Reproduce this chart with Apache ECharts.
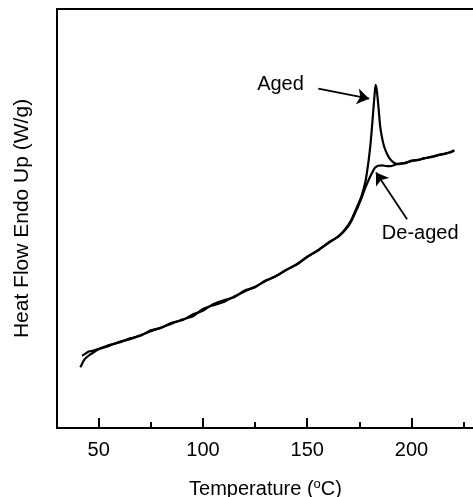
<!DOCTYPE html>
<html>
<head>
<meta charset="utf-8">
<script src="https://cdn.jsdelivr.net/npm/echarts@6/dist/echarts.min.js"></script>
<style>html,body{margin:0;padding:0;background:#fff;}#c{width:473px;height:497px;}</style>
</head>
<body>
<div id="c"></div>
<script>
// Temperature (°C) and heat flow (arbitrary units) for the Aged trace
var agedT = [41.2, 43.2, 45.5, 47.1, 50, 55, 60, 65, 70, 75, 80, 85, 90, 95, 100, 105, 110, 115, 120, 125, 130, 135, 140, 145, 150, 155, 160, 165, 168, 171, 174, 176, 178, 179.5, 180.5, 181.5, 182.3, 182.8, 183.4, 184.2, 185, 186, 187, 188.5, 190, 192, 194, 197, 200, 203, 206, 210, 213, 216, 219, 220.5];
var agedV = [14.5, 16.4, 17.4, 17.9, 18.8, 19.6, 20.6, 21.2, 22.1, 23.1, 24.0, 24.9, 25.9, 26.6, 28.4, 29.3, 30.1, 31.4, 32.6, 33.7, 35.1, 36.3, 37.7, 39.1, 40.8, 42.4, 44.1, 45.8, 47.3, 49.5, 52.9, 55.3, 59.0, 64.0, 68.5, 74.5, 79.5, 81.9, 80.5, 76.5, 72.0, 69.0, 67.0, 65.2, 64.0, 63.2, 63.0, 63.3, 63.7, 64.0, 64.3, 64.8, 65.1, 65.5, 65.8, 66.3];
// De-aged trace
var deagedT = [42.0, 45.5, 47.1, 50, 55, 60, 65, 70, 75, 80, 85, 90, 95, 100, 105, 110, 115, 120, 125, 130, 135, 140, 145, 150, 155, 160, 165, 168, 171, 174, 176, 178, 180, 181.5, 182.5, 184, 186, 188, 190, 192, 194, 197, 200, 203, 206, 210, 213, 216, 219, 220.5];
var deagedV = [17.2, 18.3, 18.4, 18.9, 19.8, 20.4, 21.4, 22.0, 23.3, 23.9, 25.1, 25.7, 27.1, 28.0, 29.6, 30.5, 31.2, 32.8, 33.6, 35.2, 36.2, 37.8, 39.0, 40.9, 42.3, 44.2, 45.7, 47.1, 49.2, 52.4, 54.8, 57.5, 59.8, 61.3, 62.1, 62.6, 62.7, 62.5, 62.5, 62.8, 63.1, 63.2, 63.8, 63.9, 64.4, 64.7, 65.2, 65.4, 65.9, 66.2];
var majorTicks = [50, 100, 150, 200];
var minorTicks = [75, 125, 175, 225];
// annotations: [label, textT, textV, arrowFromT, arrowFromV, arrowToT, arrowToV]
var annoAged = ['Aged', 137.2, 81.9, 155.3, 81.0, 179.7, 78.6];
var annoDeaged = ['De-aged', 204.2, 46.4, 197.9, 49.8, 183.0, 61.0];

function pairs(xs, ys) { return xs.map(function (x, i) { return [x, ys[i]]; }); }

var FONT = 'Liberation Sans, Arial, sans-serif';
var chart = echarts.init(document.getElementById('c'));
var xBase = {
  type: 'value', min: 30, max: 230, position: 'bottom',
  axisLine: { show: true, lineStyle: { color: '#000', width: 2 } },
  splitLine: { show: false }
};
var annos = [annoAged, annoDeaged];
chart.setOption({
  animation: false,
  backgroundColor: '#fff',
  grid: { left: 57, top: 9, width: 417, bottom: 69, outerBoundsMode: 'none', containLabel: false, show: true, borderColor: '#000', borderWidth: 2, backgroundColor: 'transparent' },
  xAxis: [
    Object.assign({}, xBase, {
      name: '{t|Temperature (}{s|o}{t|C)}',
      nameLocation: 'middle', nameGap: 50,
      nameTextStyle: { rich: { t: { fontFamily: FONT, fontSize: 20, color: '#000' }, s: { fontFamily: FONT, fontSize: 13, color: '#000', padding: [0, 0, 9, 0] } } },
      axisTick: { show: true, inside: true, length: 10, lineStyle: { color: '#000', width: 2 }, customValues: majorTicks },
      axisLabel: { show: true, customValues: majorTicks, margin: 12, fontFamily: FONT, fontSize: 20, color: '#000' }
    }),
    Object.assign({}, xBase, {
      axisTick: { show: true, inside: true, length: 6, lineStyle: { color: '#000', width: 2 }, customValues: minorTicks },
      axisLabel: { show: false }
    })
  ],
  yAxis: {
    type: 'value', min: 0, max: 100,
    name: 'Heat Flow Endo Up (W/g)', nameLocation: 'middle', nameGap: 24,
    nameTextStyle: { fontFamily: FONT, fontSize: 21, color: '#000' },
    axisLine: { show: true, lineStyle: { color: '#000', width: 2 } },
    axisTick: { show: false }, axisLabel: { show: false }, splitLine: { show: false }
  },
  series: [
    {
      name: 'Aged', type: 'line', data: pairs(agedT, agedV), showSymbol: false, smooth: 0.2,
      lineStyle: { color: '#000', width: 2.2 },
      markLine: {
        silent: true, symbol: ['none', 'arrow'], symbolSize: 12,
        lineStyle: { color: '#000', width: 1.8, type: 'solid' }, label: { show: false },
        data: annos.map(function (a) { return [{ coord: [a[3], a[4]] }, { coord: [a[5], a[6]] }]; })
      },
      markPoint: {
        silent: true, symbol: 'circle', symbolSize: 0,
        label: { show: true, position: 'inside', formatter: '{b}', fontFamily: FONT, fontSize: 20, color: '#000' },
        data: annos.map(function (a) { return { name: a[0], coord: [a[1], a[2]] }; })
      }
    },
    {
      name: 'De-aged', type: 'line', data: pairs(deagedT, deagedV), showSymbol: false, smooth: 0.2,
      lineStyle: { color: '#000', width: 2.2 }
    }
  ]
});
</script>
</body>
</html>
